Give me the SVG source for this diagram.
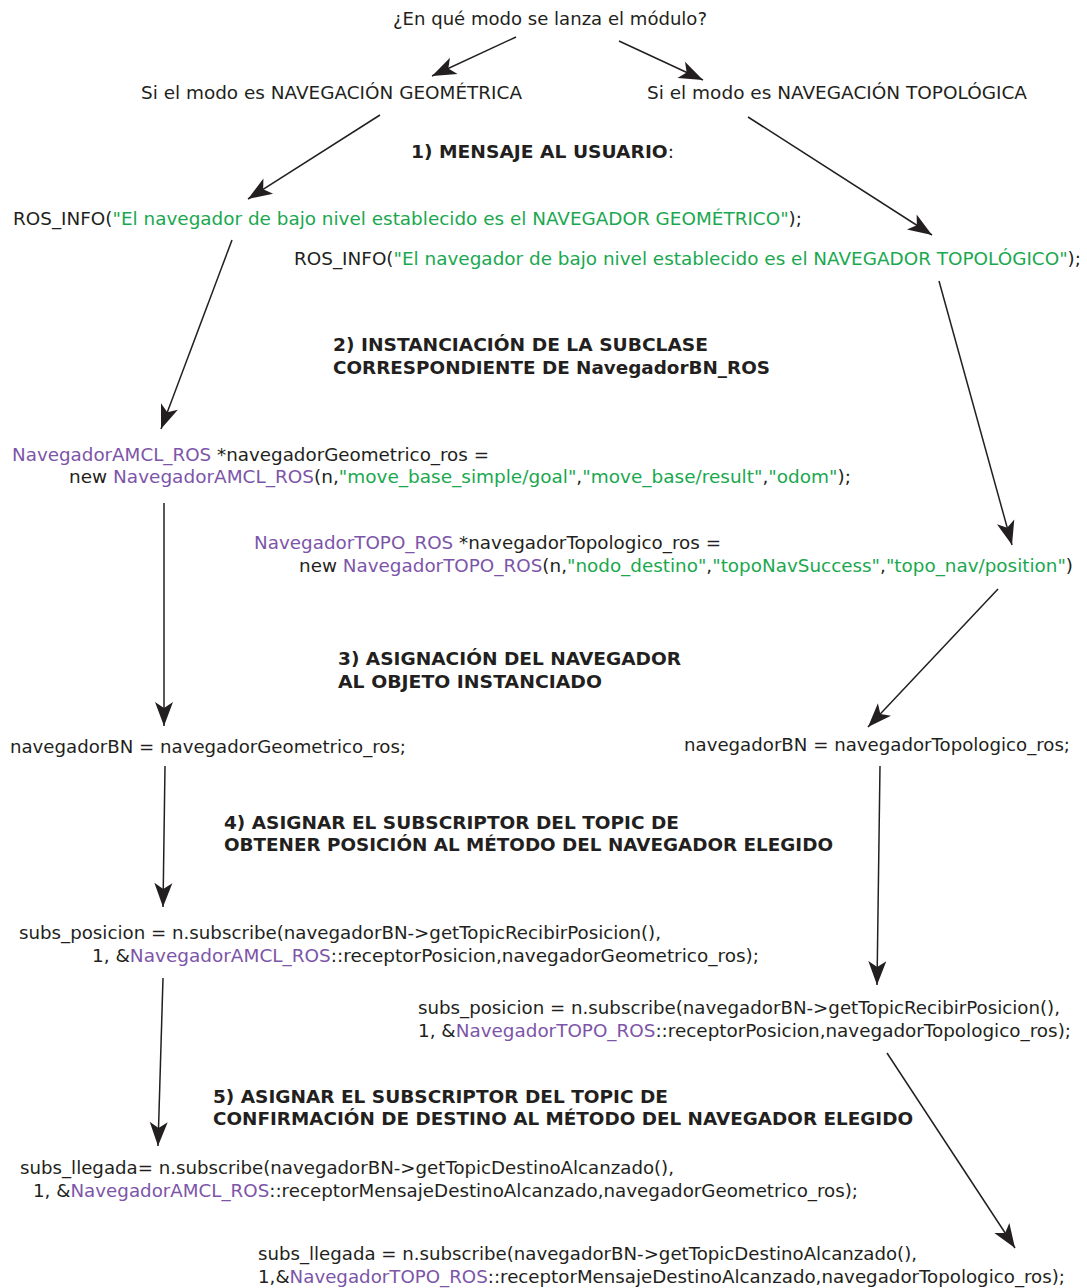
<svg xmlns="http://www.w3.org/2000/svg" width="1087" height="1288" viewBox="0 0 1087 1288">
<style>
text{font-family:"DejaVu Sans","Verdana",sans-serif;font-size:17px;fill:#231f20}
.b{font-weight:bold}
.g{fill:#1aa84f}
.p{fill:#7c55a8}
.c line{stroke:#231f20;stroke-width:1.5;marker-end:url(#ah)}
</style>
<defs>
<marker id="ah" markerUnits="userSpaceOnUse" viewBox="-25 -10 27 20" refX="0" refY="0" markerWidth="27" markerHeight="20" orient="auto">
<path d="M0,0 L-24,-9 L-18,0 L-24,9 Z" fill="#231f20"/>
</marker>
</defs>
<rect width="1087" height="1288" fill="#fff"/>
<g id="nodes" transform="translate(0,1)">
<g id="q"><text x="393" y="24" textLength="314" lengthAdjust="spacingAndGlyphs">¿En qué modo se lanza el módulo?</text></g>
<g id="geo"><text x="141" y="98" textLength="381" lengthAdjust="spacingAndGlyphs">Si el modo es NAVEGACIÓN GEOMÉTRICA</text></g>
<g id="topo"><text x="647" y="98" textLength="380" lengthAdjust="spacingAndGlyphs">Si el modo es NAVEGACIÓN TOPOLÓGICA</text></g>
<g id="h1"><text x="411" y="157" textLength="263" lengthAdjust="spacingAndGlyphs"><tspan class="b">1) MENSAJE AL USUARIO</tspan>:</text></g>
<g id="info-geo"><text x="13" y="224" textLength="789" lengthAdjust="spacingAndGlyphs">ROS_INFO(<tspan class="g">"El navegador de bajo nivel establecido es el NAVEGADOR GEOMÉTRICO"</tspan>);</text></g>
<g id="info-topo"><text x="294" y="264" textLength="787" lengthAdjust="spacingAndGlyphs">ROS_INFO(<tspan class="g">"El navegador de bajo nivel establecido es el NAVEGADOR TOPOLÓGICO"</tspan>);</text></g>
<g id="h2"><text class="b" x="333" y="350" textLength="375" lengthAdjust="spacingAndGlyphs">2) INSTANCIACIÓN DE LA SUBCLASE</text><text class="b" x="333" y="373" textLength="437" lengthAdjust="spacingAndGlyphs">CORRESPONDIENTE DE NavegadorBN_ROS</text></g>
<g id="new-geo"><text x="12" y="460" textLength="477" lengthAdjust="spacingAndGlyphs"><tspan class="p">NavegadorAMCL_ROS</tspan> *navegadorGeometrico_ros =</text><text x="69" y="482" textLength="782" lengthAdjust="spacingAndGlyphs">new <tspan class="p">NavegadorAMCL_ROS</tspan>(n,<tspan class="g">"move_base_simple/goal"</tspan>,<tspan class="g">"move_base/result"</tspan>,<tspan class="g">"odom"</tspan>);</text></g>
<g id="new-topo"><text x="254" y="548" textLength="467" lengthAdjust="spacingAndGlyphs"><tspan class="p">NavegadorTOPO_ROS</tspan> *navegadorTopologico_ros =</text><text x="299" y="571" textLength="774" lengthAdjust="spacingAndGlyphs">new <tspan class="p">NavegadorTOPO_ROS</tspan>(n,<tspan class="g">"nodo_destino"</tspan>,<tspan class="g">"topoNavSuccess"</tspan>,<tspan class="g">"topo_nav/position"</tspan>)</text></g>
<g id="h3"><text class="b" x="338" y="664" textLength="343" lengthAdjust="spacingAndGlyphs">3) ASIGNACIÓN DEL NAVEGADOR</text><text class="b" x="338" y="687" textLength="264" lengthAdjust="spacingAndGlyphs">AL OBJETO INSTANCIADO</text></g>
<g id="bn-geo"><text x="10" y="752" textLength="396" lengthAdjust="spacingAndGlyphs">navegadorBN = navegadorGeometrico_ros;</text></g>
<g id="bn-topo"><text x="684" y="750" textLength="386" lengthAdjust="spacingAndGlyphs">navegadorBN = navegadorTopologico_ros;</text></g>
<g id="h4"><text class="b" x="224" y="828" textLength="455" lengthAdjust="spacingAndGlyphs">4) ASIGNAR EL SUBSCRIPTOR DEL TOPIC DE</text><text class="b" x="224" y="850" textLength="609" lengthAdjust="spacingAndGlyphs">OBTENER POSICIÓN AL MÉTODO DEL NAVEGADOR ELEGIDO</text></g>
<g id="pos-geo"><text x="19" y="938" textLength="642" lengthAdjust="spacingAndGlyphs">subs_posicion = n.subscribe(navegadorBN-&gt;getTopicRecibirPosicion(),</text><text x="92" y="961" textLength="667" lengthAdjust="spacingAndGlyphs">1, &amp;<tspan class="p">NavegadorAMCL_ROS</tspan>::receptorPosicion,navegadorGeometrico_ros);</text></g>
<g id="pos-topo"><text x="418" y="1013" textLength="642" lengthAdjust="spacingAndGlyphs">subs_posicion = n.subscribe(navegadorBN-&gt;getTopicRecibirPosicion(),</text><text x="418" y="1036" textLength="653" lengthAdjust="spacingAndGlyphs">1, &amp;<tspan class="p">NavegadorTOPO_ROS</tspan>::receptorPosicion,navegadorTopologico_ros);</text></g>
<g id="h5"><text class="b" x="213" y="1102" textLength="455" lengthAdjust="spacingAndGlyphs">5) ASIGNAR EL SUBSCRIPTOR DEL TOPIC DE</text><text class="b" x="213" y="1124" textLength="700" lengthAdjust="spacingAndGlyphs">CONFIRMACIÓN DE DESTINO AL MÉTODO DEL NAVEGADOR ELEGIDO</text></g>
<g id="lleg-geo"><text x="20" y="1173" textLength="654" lengthAdjust="spacingAndGlyphs">subs_llegada= n.subscribe(navegadorBN-&gt;getTopicDestinoAlcanzado(),</text><text x="33" y="1196" textLength="825" lengthAdjust="spacingAndGlyphs">1, &amp;<tspan class="p">NavegadorAMCL_ROS</tspan>::receptorMensajeDestinoAlcanzado,navegadorGeometrico_ros);</text></g>
<g id="lleg-topo"><text x="258" y="1259" textLength="659" lengthAdjust="spacingAndGlyphs">subs_llegada = n.subscribe(navegadorBN-&gt;getTopicDestinoAlcanzado(),</text><text x="258" y="1282" textLength="807" lengthAdjust="spacingAndGlyphs">1,&amp;<tspan class="p">NavegadorTOPO_ROS</tspan>::receptorMensajeDestinoAlcanzado,navegadorTopologico_ros);</text></g>
</g>
<g id="connectors" class="c">
<line x1="516" y1="37" x2="432" y2="76"/>
<line x1="619" y1="41" x2="703" y2="80"/>
<line x1="380" y1="115" x2="248" y2="199"/>
<line x1="748" y1="117" x2="932" y2="235"/>
<line x1="232" y1="240" x2="161" y2="429"/>
<line x1="939" y1="281" x2="1012" y2="545"/>
<line x1="164" y1="503" x2="164" y2="726"/>
<line x1="998" y1="589" x2="868" y2="727"/>
<line x1="165" y1="766" x2="163" y2="907"/>
<line x1="880" y1="766" x2="877" y2="985"/>
<line x1="163" y1="978" x2="158" y2="1146"/>
<line x1="887" y1="1053" x2="1015" y2="1248"/>
</g>
</svg>
